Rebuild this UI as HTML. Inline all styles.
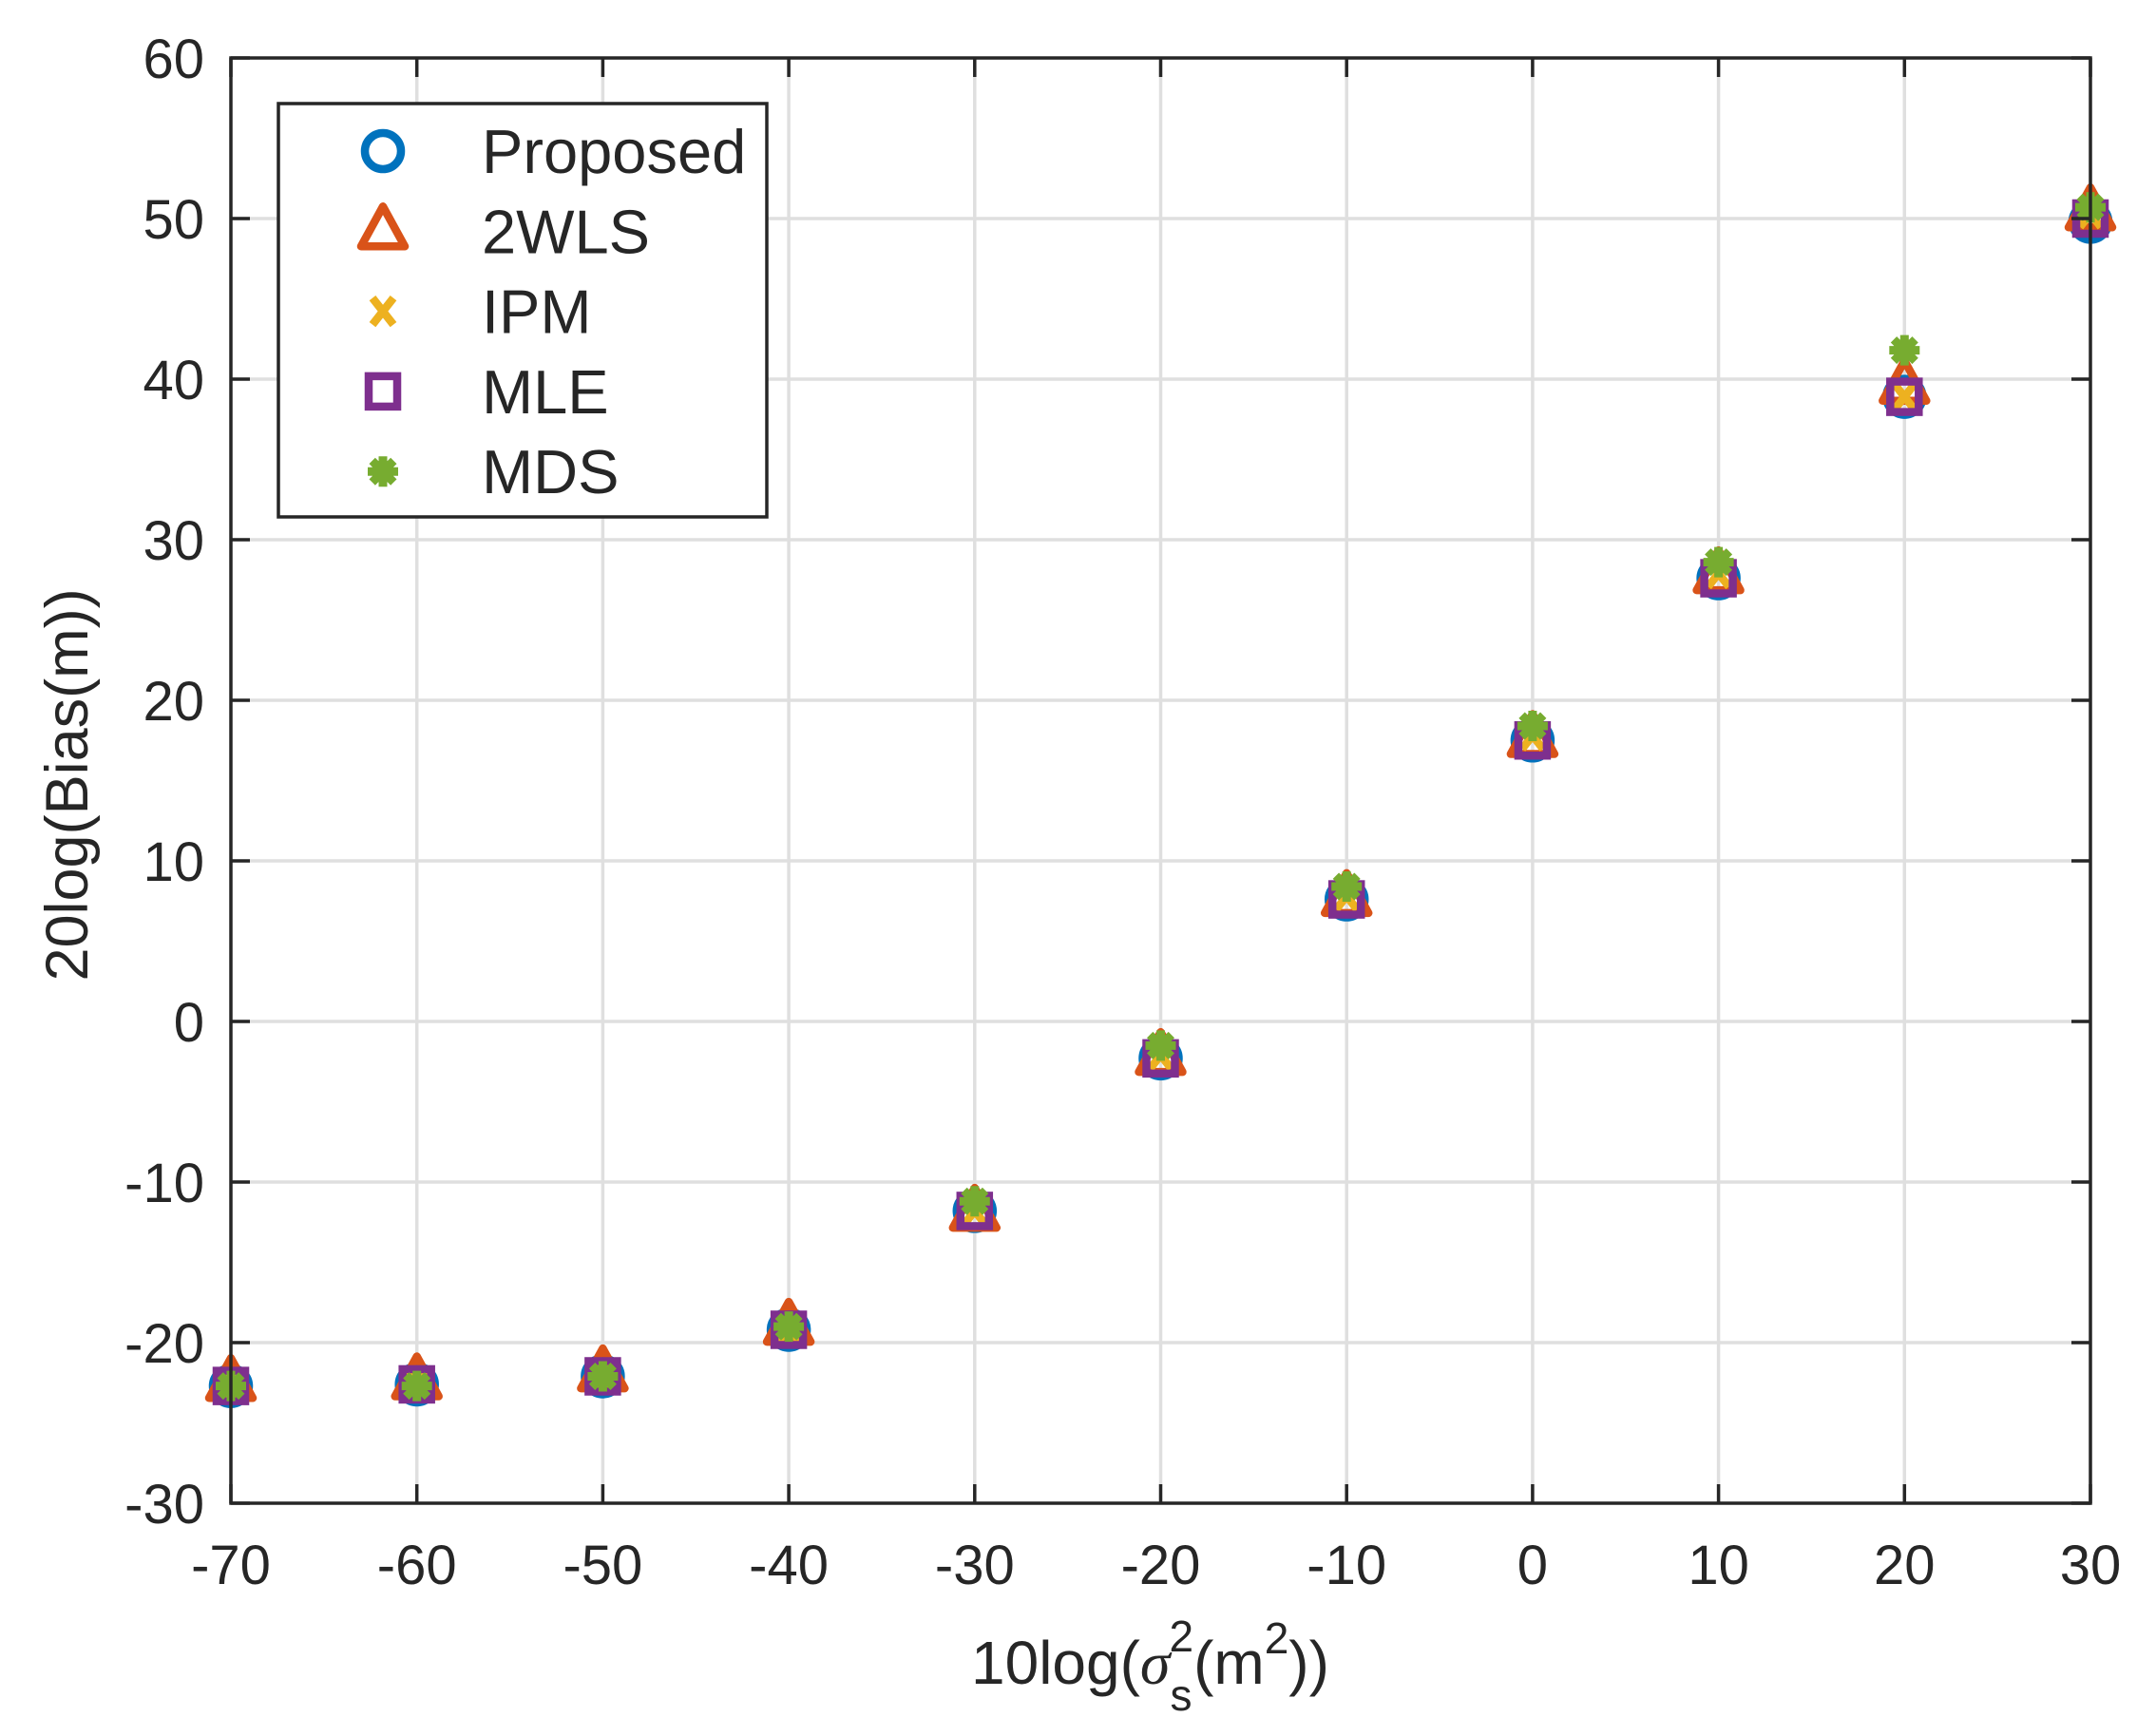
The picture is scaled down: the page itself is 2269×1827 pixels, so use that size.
<!DOCTYPE html>
<html><head><meta charset="utf-8"><style>
html,body{margin:0;padding:0;background:#fff}
svg{display:block}
text{font-family:"Liberation Sans",Arial,sans-serif;fill:#262626}
</style></head><body>
<svg id="s" width="2269" height="1827" viewBox="0 0 2269 1827" xmlns="http://www.w3.org/2000/svg">
<rect width="2269" height="1827" fill="#fff"/>
<g id="grid" stroke="#dfdfdf" stroke-width="3.5"></g>
<g id="data"></g>
<g id="axes"></g>
<g id="leg"></g>
<text x="1022" y="1772" font-size="64">10log(<tspan font-style="italic" font-family="Liberation Serif, serif">σ</tspan><tspan font-size="46" dy="28">s</tspan><tspan font-size="46" dy="-62" dx="-24">2</tspan><tspan dy="34">(m</tspan><tspan font-size="46" dy="-32">2</tspan><tspan dy="32">))</tspan></text>
<text transform="translate(92,826) rotate(-90)" font-size="63" text-anchor="middle">20log(Bias(m))</text>
</svg>
<script>
const NS="http://www.w3.org/2000/svg";
const L=243,R=2200,T=61,B=1582;
const X=v=>L+(v+70)*(R-L)/100, Y=v=>T+(60-v)*(B-T)/90;
function el(p,tag,a,txt){const e=document.createElementNS(NS,tag);for(const k in a)e.setAttribute(k,a[k]);if(txt!==undefined)e.textContent=txt;document.getElementById(p).appendChild(e);return e;}
for(let v=-60;v<=20;v+=10)el("grid","line",{x1:X(v),x2:X(v),y1:T,y2:B});
for(let v=-20;v<=50;v+=10)el("grid","line",{x1:L,x2:R,y1:Y(v),y2:Y(v)});
el("axes","rect",{x:L,y:T,width:R-L,height:B-T,fill:"none",stroke:"#262626","stroke-width":3.5});
for(let v=-70;v<=30;v+=10){
 el("axes","line",{x1:X(v),x2:X(v),y1:B,y2:B-20,stroke:"#262626","stroke-width":3.5});
 el("axes","line",{x1:X(v),x2:X(v),y1:T,y2:T+20,stroke:"#262626","stroke-width":3.5});
 el("axes","text",{x:X(v),y:1667,"font-size":58,"text-anchor":"middle"},String(v));
}
for(let v=-30;v<=60;v+=10){
 el("axes","line",{x1:L,x2:L+20,y1:Y(v),y2:Y(v),stroke:"#262626","stroke-width":3.5});
 el("axes","line",{x1:R,x2:R-20,y1:Y(v),y2:Y(v),stroke:"#262626","stroke-width":3.5});
 el("axes","text",{x:215,y:Y(v)+21,"font-size":58,"text-anchor":"end"},String(v));
}
const xs=[-70,-60,-50,-40,-30,-20,-10,0,10,20,30];
const base=[-22.7,-22.6,-22.1,-19.2,-11.8,-2.3,7.6,17.5,27.6,38.9,49.8];
const tri=[-22.5,-22.4,-21.9,-19.0,-11.9,-2.2,7.7,17.6,27.8,39.6,50.4];
const ipm=[-22.7,-22.6,-22.1,-19.1,-11.8,-2.1,7.8,17.8,27.9,38.9,50.3];
const mle=[-22.7,-22.6,-22.1,-19.2,-11.8,-2.3,7.6,17.5,27.6,38.9,50.0];
const mds=[-22.7,-22.7,-22.1,-19.0,-11.2,-1.5,8.4,18.4,28.6,41.8,50.7];
const C={b:"#0072BD",o:"#D95319",y:"#EDB120",p:"#7E2F8E",g:"#77AC30"};
function circ(g,x,y){el(g,"circle",{cx:x,cy:y,r:19,fill:"none",stroke:C.b,"stroke-width":8.5});}
function trian(g,x,y){el(g,"polygon",{points:`${x},${y-26} ${x+23},${y+16} ${x-23},${y+16}`,fill:"none",stroke:C.o,"stroke-width":8.5,"stroke-linejoin":"round"});}
function cross(g,x,y){el(g,"path",{d:`M${x-11},${y-14}L${x+11},${y+14}M${x+11},${y-14}L${x-11},${y+14}`,stroke:C.y,"stroke-width":8.5});}
function sq(g,x,y){el(g,"rect",{x:x-15,y:y-16,width:30,height:32,fill:"none",stroke:C.p,"stroke-width":8.5});}
function ast(g,x,y){let d="";for(let i=0;i<4;i++){const a=i*Math.PI/4;d+=`M${x-16*Math.cos(a)},${y-16*Math.sin(a)}L${x+16*Math.cos(a)},${y+16*Math.sin(a)}`;}
 el(g,"circle",{cx:x,cy:y,r:12,fill:C.g});el(g,"path",{d,stroke:C.g,"stroke-width":9});}
xs.forEach((v,i)=>{const x=X(v);
 circ("data",x,Y(base[i]));trian("data",x,Y(tri[i]));cross("data",x,Y(ipm[i]));sq("data",x,Y(mle[i]));ast("data",x,Y(mds[i]));});
el("leg","rect",{x:293,y:109,width:514,height:435,fill:"#fff",stroke:"#262626","stroke-width":3.5});
const names=["Proposed","2WLS","IPM","MLE","MDS"],fns=[circ,trian,cross,sq,ast];
names.forEach((n,i)=>{const y=159+i*84.3;fns[i]("leg",403,y);el("leg","text",{x:507,y:y+23,"font-size":65,fill:"#000"},n);});
</script>
</body></html>
